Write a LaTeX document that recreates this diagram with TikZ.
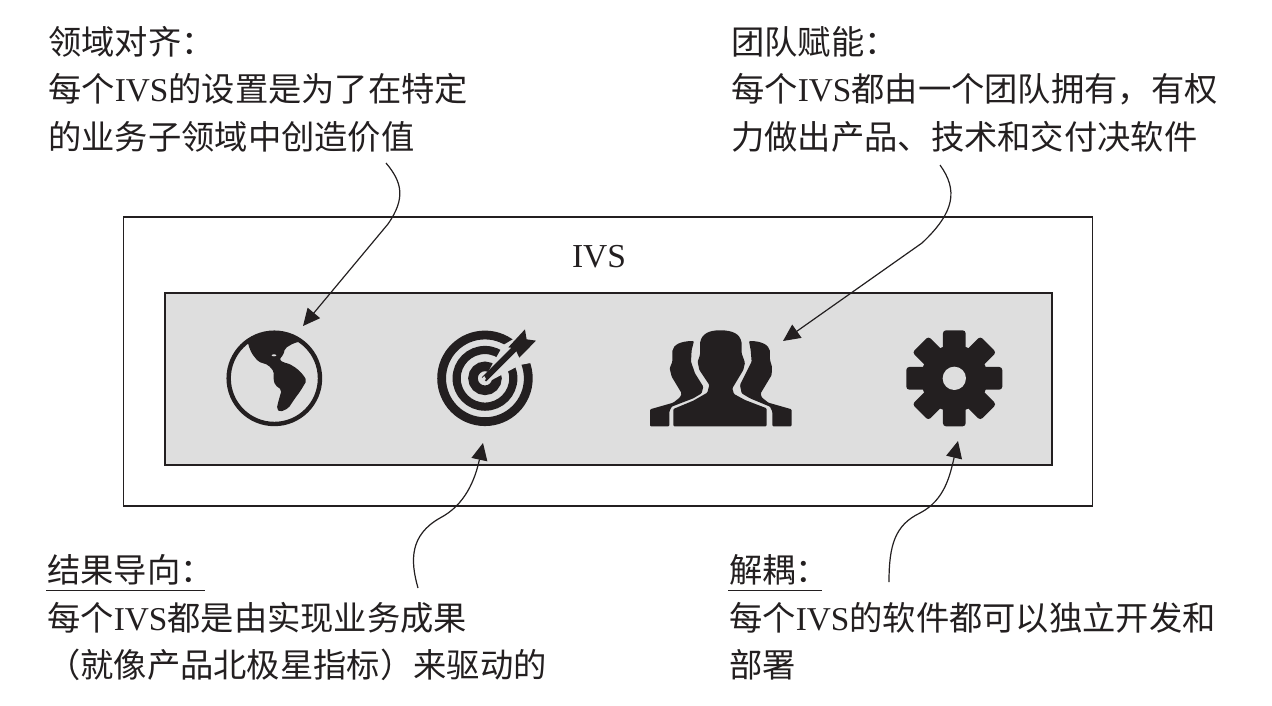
\documentclass[tikz,border=0pt]{standalone}
\usepackage{fontspec}
\setmainfont{Liberation Serif}
\newfontfamily\cjk{Noto Sans CJK SC}
\usetikzlibrary{arrows.meta}
\definecolor{ink}{HTML}{231F20}
\definecolor{panel}{HTML}{DEDEDE}
\newcommand{\cn}[1]{{\cjk #1}}
\tikzset{
  textblock/.style={anchor=north west,inner sep=0pt,align=left,text=ink,font=\fontsize{33.3}{47.5}\selectfont},
  leader/.style={draw=ink,line width=1.2pt,-{Triangle[length=17pt,width=16pt]}},
  rulebar/.style={draw=ink,line width=1.6pt},
}
\begin{document}
\begin{tikzpicture}[x=1pt,y=-1pt]
\useasboundingbox (0,0) rectangle (1272,706);
\fill[white] (0,0) rectangle (1272,706);
% boxes
\node[draw=ink,line width=1.5pt,minimum width=969pt,minimum height=289pt,inner sep=0pt,anchor=north west] (outer) at (122.5,216) {};
\node[draw=ink,line width=2.2pt,fill=panel,minimum width=887pt,minimum height=172pt,inner sep=0pt,anchor=north west] (inner) at (163.5,291.5) {};
\node[text=ink,font=\fontsize{33.5}{38}\selectfont] (ivs) at (599,257) {IVS};
% texts
\node[textblock] (ta) at (48,26) {\cn{领域对齐：}\\\cn{每个}IVS\cn{的设置是为了在特定}\\\cn{的业务子领域中创造价值}};
\node[textblock] (tb) at (731,26) {\cn{团队赋能：}\\\cn{每个}IVS\cn{都由一个团队拥有，有权}\\\cn{力做出产品、技术和交付决软件}};
\node[textblock] (tc) at (47,554.5) {\cn{结果导向：}\\\cn{每个}IVS\cn{都是由实现业务成果}\\\cn{（就像产品北极星指标）来驱动的}};
\node[textblock] (td) at (729,554.5) {\cn{解耦：}\\\cn{每个}IVS\cn{的软件都可以独立开发和}\\\cn{部署}};
\coordinate (uc1) at (46,590.5); \coordinate (uc2) at (205,590.5);
\coordinate (ud1) at (728,590.5); \coordinate (ud2) at (822,590.5);
\draw[rulebar] (uc1) -- (uc2);
\draw[rulebar] (ud1) -- (ud2);
% globe
\begin{scope}[shift={(200,310)},x=0.3333pt,y=-0.3333pt]
  \coordinate (globe) at (223,205);
  \draw[ink,line width=4.4pt] (globe) circle[radius=137];
  \begin{scope}
    \clip (globe) circle[radius=140];
    \fill[ink,rounded corners=2pt] (135,40) -- (145,105) -- (155,130) -- (175,155) -- (205,165) -- (222,185) -- (220,205) -- (225,225) -- (245,240) -- (235,275) -- (230,297) -- (240,306) -- (265,295) -- (285,265) -- (300,245) -- (320,212) -- (310,195) -- (290,175) -- (265,160) -- (250,158) -- (238,148) -- (250,135) -- (255,115) -- (280,100) -- (310,92) -- (320,40) -- cycle;
  \end{scope}
  \fill[panel] (222,136) ellipse[x radius=7,y radius=3];
\end{scope}
% target
\begin{scope}[shift={(200,310)},x=0.3333pt,y=-0.3333pt]
  \coordinate (target) at (855,205);
  \draw[ink,line width=8.8pt] (target) circle[radius=130];
  \draw[ink,line width=8.2pt] (target) circle[radius=85];
  \draw[ink,line width=9.5pt] (target) circle[radius=36];
  \fill[panel] (862,190) -- (910,105) -- (1020,40) -- (1040,150) -- (960,165) -- (872,212) -- cycle;
  \draw[ink,line width=6pt] (852,208) -- (945,115);
  \fill[panel] (846,205) -- (851,214) -- (858,207) -- (853,198) -- cycle;
  \fill[ink] (925,112) -- (975,58) -- (980,88) -- (1008,92) -- (958,143) -- (945,115) -- cycle;
\end{scope}
% people
\begin{scope}[shift={(630,310)},x=0.3333pt,y=-0.3333pt]
  \coordinate (team) at (270,205);
  \fill[ink,rounded corners=1pt] (130,349) -- (130,297) -- (190,272) -- (232,248) -- (238,225) -- (208,180) -- (203,155) -- (210,135)
     -- (210,100) .. controls (215,70) and (240,61) .. (270,61) .. controls (305,61) and (330,70) .. (335,100)
     -- (335,130) -- (345,158) -- (340,180) -- (307,235) -- (312,252) -- (345,270) -- (410,295) -- (410,349) -- cycle;
  \fill[ink,rounded corners=1pt] (60,349) -- (60,298) -- (130,278) -- (150,262) -- (155,250) -- (125,200) -- (119,175) -- (127,155) -- (127,125) .. controls (130,105) and (150,93) .. (192,93)
     -- (185,120) -- (183,155) -- (195,190) -- (220,230) -- (215,250) -- (190,265) -- (125,290) -- (118,305) -- (118,349) -- cycle;
  \fill[ink,rounded corners=1pt] (485,349) -- (485,298) -- (415,278) -- (395,262) -- (392,250) -- (425,195) -- (426,170) -- (420,150) -- (420,125) .. controls (417,105) and (395,93) .. (357,93)
     -- (362,120) -- (365,155) -- (350,185) -- (330,225) -- (335,250) -- (360,265) -- (420,290) -- (427,305) -- (427,349) -- cycle;
  % gear
  \coordinate (gear) at (973,205);
  \fill[ink] (gear) circle[radius=100];
  \foreach \a in {0,45,...,315}
    \fill[ink,rounded corners=3pt,rotate around={\a:(gear)}] (939,205) rectangle (1007,61);
  \fill[panel] (gear) circle[radius=35];
\end{scope}
% connectors
\coordinate (as) at (386,163); \coordinate (ae) at (303,326);
\coordinate (bs) at (940,165); \coordinate (be) at (783,341);
\coordinate (cs) at (418,588); \coordinate (ce) at (483,443);
\coordinate (ds) at (889,582); \coordinate (de) at (958,441);
\draw[leader] (as) .. controls (402,182) and (406,198) .. (388,224) -- (ae);
\draw[leader] (bs) .. controls (958,190) and (955,212) .. (922,243) -- (be);
\draw[leader] (cs) .. controls (410,560) and (410,535) .. (440,518) .. controls (465,505) and (475,480) .. (ce);
\draw[leader] (ds) .. controls (889,545) and (895,525) .. (920,513) .. controls (945,500) and (950,475) .. (de);
\end{tikzpicture}
\end{document}
